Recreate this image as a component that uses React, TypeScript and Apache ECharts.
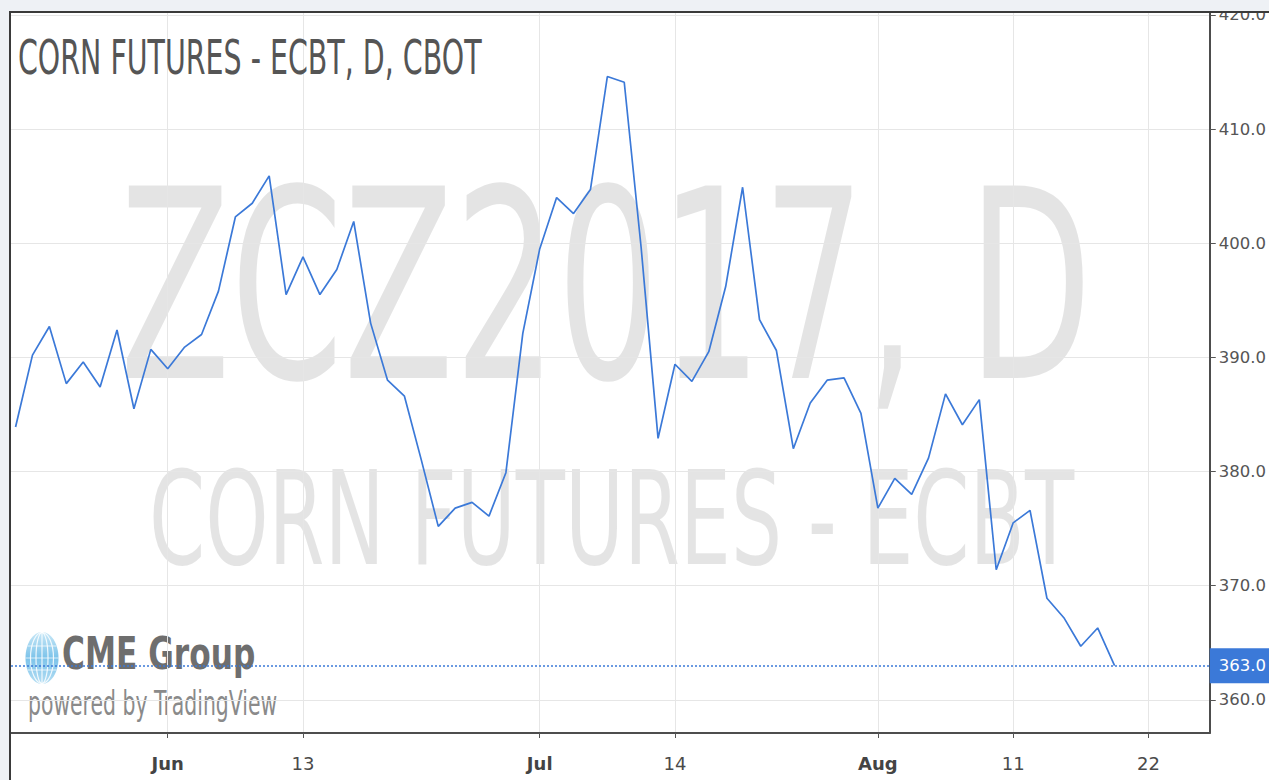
import React, { useEffect, useRef } from "react";
import * as echarts from "echarts";

// Daily settlement prices (trading-session index 0 = first bar shown)
const prices = [
  383.9, 390.2, 392.7, 387.7, 389.6, 387.4, 392.4, 385.5, 390.7, 389.0,
  390.9, 392.0, 395.8, 402.3, 403.5, 405.9, 395.5, 398.8, 395.5, 397.7,
  401.9, 393.0, 388.0, 386.6, 381.0, 375.2, 376.8, 377.3, 376.1, 379.9,
  392.1, 399.5, 404.0, 402.6, 404.7, 414.6, 414.1, 399.6, 382.9, 389.4,
  387.9, 390.5, 396.2, 404.9, 393.3, 390.6, 382.0, 386.0, 388.0, 388.2,
  385.1, 376.8, 379.4, 378.0, 381.2, 386.8, 384.1, 386.3, 371.4, 375.5,
  376.6, 368.9, 367.2, 364.7, 366.3, 363.0,
];

// Time-axis ticks (session index) and their labels
const xTickIndex = [9, 17, 31, 39, 51, 59, 67];
const xTickLabel = ["Jun", "13", "Jul", "14", "Aug", "11", "22"];
const monthLabels = ["Jun", "Jul", "Aug"];

// Price-axis ticks
const yTicks = [360, 370, 380, 390, 400, 410, 420];

const titleText = "CORN FUTURES - ECBT, D, CBOT";
const watermarkSymbol = "ZCZ2017, D";
const watermarkName = "CORN FUTURES - ECBT";
const logoName = "CME Group";
const logoSub = "powered by TradingView";

const FONT = "'DejaVu Sans', sans-serif";
const BLUE = "#3b79d8";
const PAGE_BG = "#eef1f5";

export default function App() {
  const ref = useRef<HTMLDivElement>(null);

  useEffect(() => {
    if (!ref.current) return;
    const chart = echarts.init(ref.current, null, { renderer: "svg" });
    const last = prices[prices.length - 1];

    const txt = (
      text: string,
      x: number,
      y: number,
      font: string,
      fill: string,
      scaleX: number,
      align: string,
      z: number
    ) => ({
      type: "text",
      x,
      y,
      scaleX,
      z,
      silent: true,
      style: {
        text,
        font,
        fill,
        align,
        textAlign: align,
        verticalAlign: "middle",
        textVerticalAlign: "middle",
      },
    });

    const globeCx = 42;
    const globeCy = 658;
    const globeRx = 16.5;
    const globeRy = 26;

    chart.setOption({
      animation: false,
      backgroundColor: PAGE_BG,
      grid: { left: 11, right: 57, top: 12, bottom: 47, containLabel: false },
      xAxis: {
        type: "value",
        min: -0.27,
        max: 70.63,
        axisLine: { show: true, onZero: false, lineStyle: { color: "#4d4d4d", width: 2 } },
        axisTick: {
          show: true,
          customValues: xTickIndex,
          length: 5,
          lineStyle: { color: "#555", width: 1 },
        },
        axisLabel: {
          show: true,
          customValues: xTickIndex,
          margin: 21,
          color: "#4a4a4a",
          fontSize: 18,
          fontFamily: FONT,
          formatter: (v: number) => {
            const k = xTickIndex.indexOf(Math.round(v));
            const lab = k >= 0 ? xTickLabel[k] : "";
            return monthLabels.indexOf(lab) >= 0 ? `{m|${lab}}` : `{d|${lab}}`;
          },
          rich: {
            m: { fontSize: 18, fontFamily: FONT, fontWeight: "bold", color: "#444" },
            d: { fontSize: 18, fontFamily: FONT, color: "#4a4a4a" },
          },
        },
        splitLine: { show: true, lineStyle: { color: "#e6e6e6", width: 1 } },
      },
      yAxis: {
        type: "value",
        position: "right",
        min: 357.1,
        max: 420.25,
        axisLine: { show: true, onZero: false, lineStyle: { color: "#4d4d4d", width: 2 } },
        axisTick: {
          show: true,
          customValues: yTicks,
          length: 6,
          lineStyle: { color: "#555", width: 1 },
        },
        axisLabel: {
          show: true,
          customValues: yTicks,
          margin: 9,
          color: "#555",
          fontSize: 16.5,
          fontFamily: FONT,
          formatter: (v: number) => v.toFixed(1),
        },
        splitLine: { show: true, lineStyle: { color: "#e6e6e6", width: 1 } },
      },
      series: [
        {
          type: "line",
          data: prices.map((p, i) => [i, p]),
          symbol: "none",
          showSymbol: false,
          silent: true,
          z: 5,
          lineStyle: { color: BLUE, width: 1.7 },
          markLine: {
            silent: true,
            symbol: ["none", "none"],
            lineStyle: { color: BLUE, type: [2, 2], width: 1.5 },
            label: {
              show: true,
              position: "end",
              distance: 0,
              formatter: () => last.toFixed(1),
              color: "#fff",
              backgroundColor: BLUE,
              padding: [9, 6, 9, 9],
              fontSize: 16.5,
              fontFamily: FONT,
            },
            data: [{ yAxis: last }],
          },
        },
      ],
      graphic: [
        {
          type: "rect",
          z: -20,
          silent: true,
          shape: { x: 10, y: 12, width: 1259, height: 768 },
          style: { fill: "#ffffff" },
        },
        txt(watermarkSymbol, 606, 287, `264px ${FONT}`, "rgba(0,0,0,0.105)", 0.612, "center", -10),
        txt(watermarkName, 611.5, 520, `130px ${FONT}`, "rgba(0,0,0,0.105)", 0.62, "center", -10),
        // CME globe
        {
          type: "ellipse",
          z: -5,
          silent: true,
          shape: { cx: globeCx, cy: globeCy, rx: globeRx, ry: globeRy },
          style: {
            fill: {
              type: "linear",
              x: 0,
              y: 0,
              x2: 0,
              y2: 1,
              colorStops: [
                { offset: 0, color: "#c9e8f7" },
                { offset: 0.5, color: "#7cc3ea" },
                { offset: 1, color: "#b5def3" },
              ],
            },
          },
        },
        {
          type: "ellipse",
          z: -4,
          silent: true,
          shape: { cx: globeCx, cy: globeCy, rx: 6, ry: globeRy - 0.5 },
          style: { fill: "none", stroke: "rgba(255,255,255,0.85)", lineWidth: 1.2 },
        },
        {
          type: "ellipse",
          z: -4,
          silent: true,
          shape: { cx: globeCx, cy: globeCy, rx: 11.5, ry: globeRy - 0.5 },
          style: { fill: "none", stroke: "rgba(255,255,255,0.85)", lineWidth: 1.2 },
        },
        {
          type: "line",
          z: -4,
          silent: true,
          shape: { x1: globeCx, y1: globeCy - globeRy, x2: globeCx, y2: globeCy + globeRy },
          style: { stroke: "rgba(255,255,255,0.85)", lineWidth: 1.2 },
        },
        {
          type: "line",
          z: -4,
          silent: true,
          shape: { x1: globeCx - 14.5, y1: globeCy - 12, x2: globeCx + 14.5, y2: globeCy - 12 },
          style: { stroke: "rgba(255,255,255,0.7)", lineWidth: 1 },
        },
        {
          type: "line",
          z: -4,
          silent: true,
          shape: { x1: globeCx - 16.5, y1: globeCy, x2: globeCx + 16.5, y2: globeCy },
          style: { stroke: "rgba(255,255,255,0.7)", lineWidth: 1 },
        },
        {
          type: "line",
          z: -4,
          silent: true,
          shape: { x1: globeCx - 14.5, y1: globeCy + 12, x2: globeCx + 14.5, y2: globeCy + 12 },
          style: { stroke: "rgba(255,255,255,0.7)", lineWidth: 1 },
        },
        txt(logoName, 62, 654, `bold 44px ${FONT}`, "#6e6e6e", 0.71, "left", -5),
        txt(logoSub, 28, 703, `34px ${FONT}`, "#8a8a8a", 0.6, "left", -5),
        txt(titleText, 18, 57, `48px ${FONT}`, "#555555", 0.593, "left", 10),
        {
          type: "rect",
          z: 200,
          silent: true,
          shape: { x: 0, y: 0, width: 1269, height: 11 },
          style: { fill: PAGE_BG },
        },
        {
          type: "line",
          z: 201,
          silent: true,
          shape: { x1: 9, y1: 12, x2: 1269, y2: 12 },
          style: { stroke: "#3a3a3a", lineWidth: 2 },
        },
        {
          type: "line",
          z: 201,
          silent: true,
          shape: { x1: 10, y1: 11, x2: 10, y2: 780 },
          style: { stroke: "#3a3a3a", lineWidth: 2 },
        },
      ],
    });

    return () => chart.dispose();
  }, []);

  return (
    <div
      ref={ref}
      style={{ position: "fixed", left: 0, top: 0, width: 1269, height: 780 }}
    />
  );
}
